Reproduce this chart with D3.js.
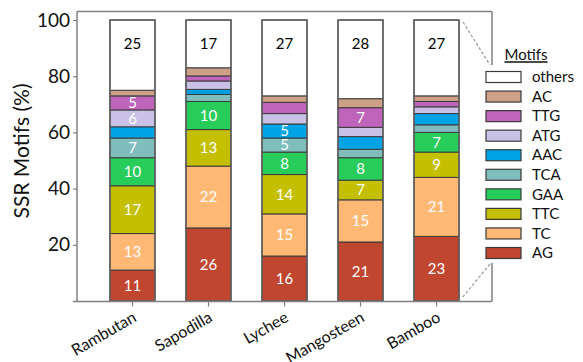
<!DOCTYPE html>
<html>
<head>
<meta charset="utf-8">
<script src="https://cdn.jsdelivr.net/npm/d3@7"></script>
<style>
  html, body { margin: 0; padding: 0; background: #fff; }
  svg { display: block; font-family: Lato, "Open Sans", "Liberation Sans", sans-serif; }
</style>
</head>
<body>
<svg id="chart" width="583" height="362"></svg>
<script>
// Samples (x axis)
const species = ["Rambutan", "Sapodilla", "Lychee", "Mangosteen", "Bamboo"];

// Motif series, stacked bottom to top
const motifs = ["AG", "TC", "TTC", "GAA", "TCA", "AAC", "ATG", "TTG", "AC", "others"];

// Percentages per motif, one entry per species
const AG     = [11, 26, 16, 21, 23];
const TC     = [13, 22, 15, 15, 21];
const TTC    = [17, 13, 14, 7, 9];
const GAA    = [10, 10, 8, 8, 7];
const TCA    = [7, 2.5, 5, 3, 2.7];
const AAC    = [4, 1.8, 5, 4.5, 4];
const ATG    = [6, 3, 3.7, 3.3, 2.4];
const TTG    = [5, 1.8, 4, 7, 1.9];
const AC     = [2, 2.9, 2.3, 3.2, 2];
const others = [25, 17, 27, 28, 27];

// Which segments carry a printed value
const labelled = {
  AG:     [true, true, true, true, true],
  TC:     [true, true, true, true, true],
  TTC:    [true, true, true, true, true],
  GAA:    [true, true, true, true, true],
  TCA:    [true, false, true, false, false],
  AAC:    [false, false, true, false, false],
  ATG:    [true, false, false, false, false],
  TTG:    [true, false, false, true, false],
  AC:     [false, false, false, false, false],
  others: [true, true, true, true, true]
};

const yTicks = [20, 40, 60, 80, 100];

const colors = {
  AG: "#C0462F", TC: "#FFB975", TTC: "#C4BF00", GAA: "#27CC5B", TCA: "#7FBEBC",
  AAC: "#00A3E6", ATG: "#C9C1E6", TTG: "#BF64BB", AC: "#CFA088", others: "#FFFFFF"
};

const series = { AG, TC, TTC, GAA, TCA, AAC, ATG, TTG, AC, others };

const rows = species.map((s, i) => {
  const r = { species: s };
  motifs.forEach(m => { r[m] = series[m][i]; });
  return r;
});

const svg = d3.select("#chart");
const plotLeft = 77, plotRight = 492, plotTop = 11.5, plotBottom = 301.5;

const x = d3.scaleBand().domain(species).range([plotLeft, plotRight])
  .paddingInner(0.408).paddingOuter(0.434);
const y = d3.scaleLinear().domain([0, 100]).range([301, 20]);

const stack = d3.stack().keys(motifs)(rows);

// Frame: top and right borders (right border broken around the legend)
const frame = svg.append("g").attr("stroke", "#808080").attr("stroke-width", 1.5).attr("fill", "none");
frame.append("line").attr("x1", plotLeft).attr("x2", plotRight).attr("y1", plotTop).attr("y2", plotTop);
frame.append("line").attr("x1", plotRight).attr("x2", plotRight).attr("y1", plotTop).attr("y2", 65);
frame.append("line").attr("x1", plotRight).attr("x2", plotRight).attr("y1", 263).attr("y2", plotBottom);

// Dashed leader lines from the last bar toward the legend
const lead = svg.append("g").attr("stroke", "#999").attr("stroke-width", 1.2)
  .attr("stroke-dasharray", "3,2").attr("fill", "none");
lead.append("line").attr("x1", 463).attr("y1", 22).attr("x2", 490).attr("y2", 65);
lead.append("line").attr("x1", 490).attr("y1", 264).attr("x2", 462).attr("y2", 298);

// Bars
const layers = svg.append("g").selectAll("g").data(stack).join("g")
  .attr("fill", d => colors[d.key]);

layers.selectAll("rect").data(d => d).join("rect")
  .attr("x", d => x(d.data.species))
  .attr("width", x.bandwidth())
  .attr("y", d => y(d[1]))
  .attr("height", d => y(d[0]) - y(d[1]))
  .attr("stroke", "#3a3a3a")
  .attr("stroke-width", 1);

// Outer bar outline
svg.append("g").selectAll("rect").data(rows).join("rect")
  .attr("x", d => x(d.species))
  .attr("width", x.bandwidth())
  .attr("y", y(100))
  .attr("height", y(0) - y(100))
  .attr("fill", "none")
  .attr("stroke", "#606060")
  .attr("stroke-width", 1.5);

// Value labels inside the segments
const labels = [];
stack.forEach(layer => {
  layer.forEach((d, i) => {
    if (labelled[layer.key][i]) {
      const isOthers = layer.key === "others";
      labels.push({
        x: x(species[i]) + x.bandwidth() / 2,
        y: isOthers ? y(d[1]) + 24 : (y(d[0]) + y(d[1])) / 2,
        text: Math.round(d[1] - d[0]),
        color: isOthers ? "#000" : "#fff"
      });
    }
  });
});
svg.append("g").selectAll("text").data(labels).join("text")
  .attr("x", d => d.x).attr("y", d => d.y)
  .attr("dy", "0.36em")
  .attr("text-anchor", "middle")
  .attr("font-size", 15)
  .attr("fill", d => d.color)
  .text(d => d.text);

// Y axis
const yAxis = svg.append("g").attr("transform", `translate(${plotLeft},0)`)
  .call(d3.axisLeft(y).tickValues(yTicks).tickSize(4).tickPadding(3));
yAxis.select(".domain").attr("d", `M0,${plotBottom}V${plotTop}`).attr("stroke", "#808080").attr("stroke-width", 1.5);
yAxis.selectAll(".tick line").attr("stroke", "#808080").attr("stroke-width", 1.2);
yAxis.selectAll(".tick text").attr("font-size", 19).attr("fill", "#111")
  .style("font-family", "Lato, 'Open Sans', sans-serif");

// X axis with slanted category names
const xAxis = svg.append("g").attr("transform", `translate(0,${plotBottom})`)
  .call(d3.axisBottom(x).tickSize(5).tickPadding(4));
xAxis.select(".domain").attr("d", `M${plotLeft - 4},0H${plotRight}`).attr("stroke", "#808080").attr("stroke-width", 1.5);
xAxis.selectAll(".tick line").attr("stroke", "#808080").attr("stroke-width", 1.2);
xAxis.selectAll(".tick text")
  .attr("font-size", 16).attr("fill", "#111")
  .style("font-family", "Lato, 'Open Sans', sans-serif")
  .attr("text-anchor", "end")
  .attr("y", 0).attr("dy", 0)
  .attr("transform", "translate(5,19) rotate(-30)");

// Y axis title
svg.append("text")
  .attr("transform", `translate(29,151) rotate(-90)`)
  .attr("text-anchor", "middle")
  .attr("font-size", 21)
  .attr("fill", "#111")
  .text("SSR Motifs (%)");

// Legend
const legend = svg.append("g");
legend.append("text")
  .attr("x", 526).attr("y", 55).attr("dy", "0.35em")
  .attr("text-anchor", "middle")
  .attr("font-size", 15)
  .attr("text-decoration", "underline")
  .attr("fill", "#111")
  .text("Motifs");

const legendItems = motifs.slice().reverse();
const ly = d3.scalePoint().domain(legendItems).range([77, 253]);
const items = legend.selectAll("g.item").data(legendItems).join("g")
  .attr("class", "item")
  .attr("transform", d => `translate(486,${ly(d)})`);
items.append("rect")
  .attr("x", 0).attr("y", -5.5).attr("width", 35).attr("height", 11)
  .attr("fill", d => colors[d]).attr("stroke", "#3a3a3a").attr("stroke-width", 1.2);
items.append("text")
  .attr("x", 46).attr("dy", "0.35em")
  .attr("font-size", 15).attr("fill", "#111")
  .text(d => d);
</script>
</body>
</html>
